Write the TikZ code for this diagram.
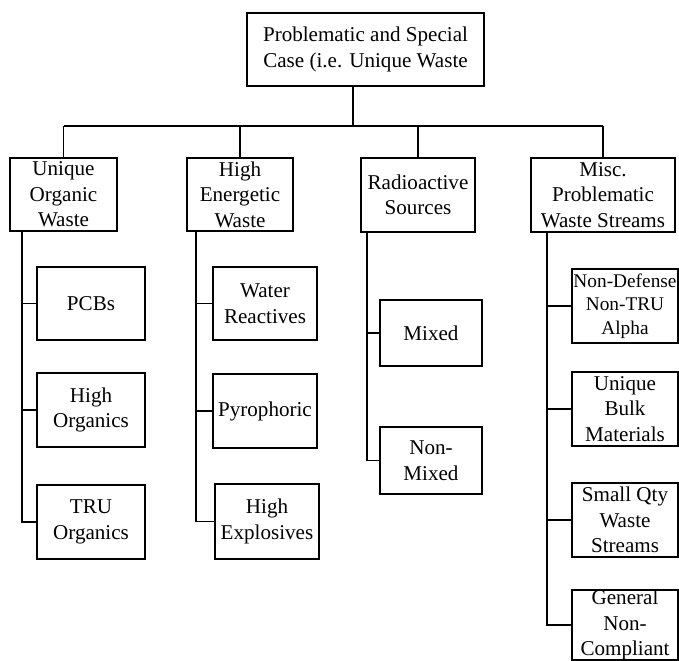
\documentclass[tikz,border=0pt]{standalone}
\usepackage{fontspec}
\setmainfont{Liberation Serif}

\tikzset{
	box/.style={draw, line width=0.9pt, align=center, inner sep=0pt, font=\fontsize{12}{14.5}\selectfont},
	link/.style={line width=0.9pt}
}

\begin{document}
\begin{tikzpicture}[x=0.02cm, y=-0.02cm]
		\useasboundingbox (0,0) rectangle (679,661);
		
		\node[box, minimum width=237*0.02cm, minimum height=73*0.02cm] (top) at (365.5,49.5) {Problematic and Special\\Case (i.e. Unique Waste};
		
		% first level
		\node[box, minimum width=107*0.02cm, minimum height=73*0.02cm] (uow) at (63.5,194.5) {Unique\\Organic\\Waste};
		\node[box, minimum width=106*0.02cm, minimum height=73*0.02cm] (hew) at (240,194.5) {High\\Energetic\\Waste};
		\node[box, minimum width=114*0.02cm, minimum height=74*0.02cm] (rad) at (418,195) {Radioactive\\Sources};
		\node[box, minimum width=144*0.02cm, minimum height=74*0.02cm] (misc) at (603,195) {Misc.\\Problematic\\Waste Streams};
		
		\coordinate (trunk) at (353,126);
		\draw[link] (top.south -| trunk) -- (trunk);
		\draw[link] (uow.north |- trunk) -- (misc.north |- trunk);
		\draw[link] (uow.north) -- (uow.north |- trunk);
		\draw[link] (hew.north) -- (hew.north |- trunk);
		\draw[link] (rad.north) -- (rad.north |- trunk);
		\draw[link] (misc.north) -- (misc.north |- trunk);
		
		% unique organic waste
		\node[box, minimum width=108*0.02cm, minimum height=73*0.02cm] (pcb) at (91,303.5) {PCBs};
		\node[box, minimum width=108*0.02cm, minimum height=74*0.02cm] (hio) at (91,410) {High\\Organics};
		\node[box, minimum width=108*0.02cm, minimum height=74*0.02cm] (tru) at (91,522) {TRU\\Organics};
		\coordinate (uowS) at (22,231);
		\draw[link] (uowS) |- (pcb.west) (uowS) |- (hio.west) (uowS) |- (tru.west);
		
		% high energetic waste
		\node[box, minimum width=104*0.02cm, minimum height=73*0.02cm] (wat) at (265,303.5) {Water\\Reactives};
		\node[box, minimum width=104*0.02cm, minimum height=74*0.02cm] (pyr) at (265,411) {Pyrophoric};
		\node[box, minimum width=104*0.02cm, minimum height=75*0.02cm] (hex) at (267,521.5) {High\\Explosives};
		\coordinate (hewS) at (196,231);
		\draw[link] (hewS) |- (wat.west) (hewS) |- (pyr.west) (hewS) |- (hex.west);
		
		% radioactive sources
		\node[box, minimum width=102*0.02cm, minimum height=66*0.02cm] (mix) at (431,333) {Mixed};
		\node[box, minimum width=102*0.02cm, minimum height=67*0.02cm] (nmx) at (431,460.5) {Non-\\Mixed};
		\coordinate (radS) at (367,232);
		\draw[link] (radS) |- (mix.west) (radS) |- (nmx.west);
		
		% misc. problematic waste streams
		\node[box, minimum width=106*0.02cm, minimum height=74*0.02cm, font=\fontsize{11}{13.5}\selectfont] (ndf) at (625,306) {Non-Defense\\Non-TRU\\Alpha};
		\node[box, minimum width=106*0.02cm, minimum height=74*0.02cm] (ubk) at (625,409) {Unique\\Bulk\\Materials};
		\node[box, minimum width=106*0.02cm, minimum height=74*0.02cm] (sqw) at (625,520) {Small Qty\\Waste\\Streams};
		\node[box, minimum width=106*0.02cm, minimum height=70*0.02cm] (gnc) at (625,625) {General\\Non-\\Compliant};
		\coordinate (miscS) at (547,232);
		\draw[link] (miscS) |- (ndf.west) (miscS) |- (ubk.west) (miscS) |- (sqw.west) (miscS) |- (gnc.west);
		
		\end{tikzpicture}
\end{document}
